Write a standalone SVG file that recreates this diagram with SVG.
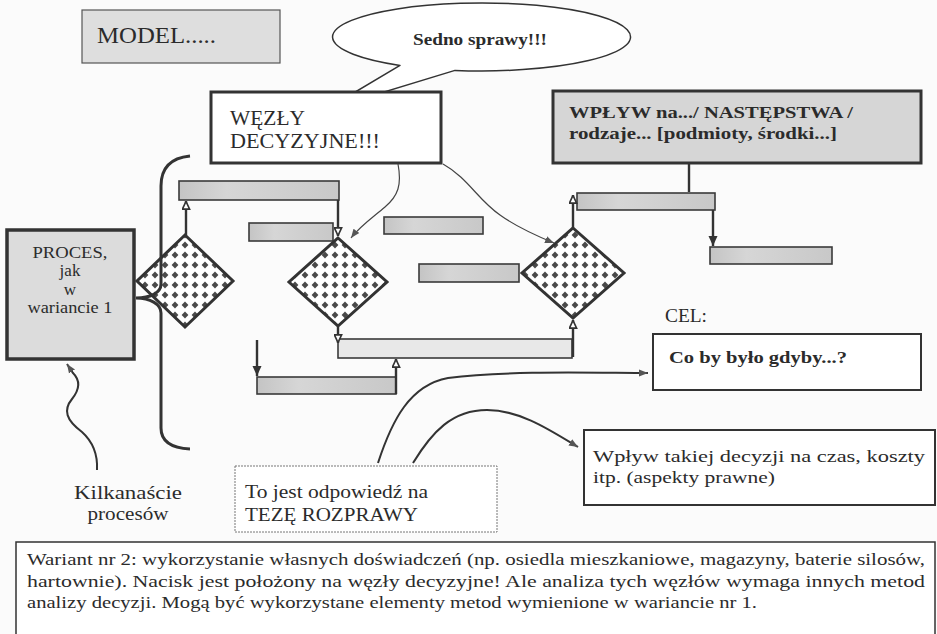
<svg xmlns="http://www.w3.org/2000/svg" width="937" height="634" viewBox="0 0 937 634" font-family="'Liberation Serif', Tinos, 'DejaVu Serif', 'Times New Roman', serif">
<defs>
<style>
text{font-family:'Liberation Serif', Tinos, 'DejaVu Serif', 'Times New Roman', serif;fill:#2b2b2b;}
.b{font-weight:bold;}
.bar{fill:url(#barG);stroke:#3a3a3a;stroke-width:1.6;}
.dia{fill:url(#dots);stroke:#333;stroke-width:3;stroke-linejoin:miter;}
.conn{fill:none;stroke:#333;stroke-width:2.4;}
.thin{fill:none;stroke:#444;stroke-width:1.2;}
.curve{fill:none;stroke:#333;stroke-width:2;}
</style>
<linearGradient id="barG" x1="0" y1="0" x2="1" y2="0">
<stop offset="0" stop-color="#c4c4c4"/>
<stop offset="0.3" stop-color="#d6d6d6"/>
<stop offset="1" stop-color="#c8c8c8"/>
</linearGradient>
<pattern id="dots" width="10" height="10" patternUnits="userSpaceOnUse">
<rect width="10" height="10" fill="#fff"/>
<path d="M5,1.6 L8.4,5 L5,8.4 L1.6,5 Z" fill="#4a4a4a"/>
</pattern>
<marker id="hollow" viewBox="0 0 10 10" refX="10" refY="5" markerWidth="9" markerHeight="9" markerUnits="userSpaceOnUse" orient="auto">
<path d="M1,1 L9.5,5 L1,9 Z" fill="#fff" stroke="#333" stroke-width="1.8"/>
</marker>
<marker id="solid" viewBox="0 0 10 10" refX="10" refY="5" markerWidth="10" markerHeight="10" markerUnits="userSpaceOnUse" orient="auto">
<path d="M0,0.5 L10,5 L0,9.5 Z" fill="#333"/>
</marker>
<marker id="thinArrow" viewBox="0 0 10 10" refX="10" refY="5" markerWidth="9" markerHeight="9" markerUnits="userSpaceOnUse" orient="auto">
<path d="M0,1 L10,5 L0,9 Z" fill="#555"/>
</marker>
</defs>
<rect width="937" height="634" fill="#fbfbfb"/>

<g id="model">
<rect x="82" y="10" width="198" height="53" fill="#dedede" stroke="#555" stroke-width="1.2"/>
<text x="97" y="43" font-size="23" textLength="119" lengthAdjust="spacingAndGlyphs">MODEL.....</text>
</g>

<g id="callout">
<path d="M455,70.4 A149,34 0 1 0 400,65.4 L325,110 Z" fill="#fff" stroke="#333" stroke-width="1.5" stroke-linejoin="round"/>
<text x="413" y="45" font-size="16" class="b" textLength="134" lengthAdjust="spacingAndGlyphs">Sedno sprawy!!!</text>
</g>

<g id="wezly">
<rect x="211" y="92" width="230" height="71" fill="#fff" stroke="#333" stroke-width="3"/>
<text x="230" y="125" font-size="20" textLength="75" lengthAdjust="spacingAndGlyphs">WĘZŁY</text>
<text x="230" y="148" font-size="20" textLength="150" lengthAdjust="spacingAndGlyphs">DECYZYJNE!!!</text>
</g>

<g id="wplyw">
<rect x="553" y="91" width="368" height="72" fill="#d6d6d6" stroke="#333" stroke-width="3"/>
<text x="569" y="118" font-size="17" class="b" textLength="284" lengthAdjust="spacingAndGlyphs">WPŁYW na.../ NASTĘPSTWA /</text>
<text x="569" y="139" font-size="17" class="b" textLength="268" lengthAdjust="spacingAndGlyphs">rodzaje... [podmioty, środki...]</text>
</g>

<g id="proces">
<rect x="7" y="230" width="127" height="129" fill="#dcdcdc" stroke="#333" stroke-width="3.5"/>
<text x="70" y="258" font-size="17" text-anchor="middle" textLength="75" lengthAdjust="spacingAndGlyphs">PROCES,</text>
<text x="70" y="276" font-size="17" text-anchor="middle">jak</text>
<text x="70" y="295" font-size="17" text-anchor="middle">w</text>
<text x="70" y="313" font-size="17" text-anchor="middle" textLength="85" lengthAdjust="spacingAndGlyphs">wariancie 1</text>
</g>

<g id="bars">
<rect id="barA" class="bar" x="179" y="181" width="160" height="19"/>
<rect id="barB" class="bar" x="249" y="223" width="84" height="18"/>
<rect id="barC" class="bar" x="384" y="217" width="99" height="17"/>
<rect id="barD" class="bar" x="419" y="264" width="100" height="18"/>
<rect id="barE" class="bar" x="577" y="193" width="138" height="17"/>
<rect id="barF" class="bar" x="710" y="247" width="122" height="17"/>
<rect id="barG2" x="338" y="339" width="234" height="19" fill="#e8e8e8" stroke="#3a3a3a" stroke-width="1.6"/>
<rect id="barH" class="bar" x="257" y="377" width="139" height="17"/>
</g>

<g id="d1"><polygon class="dia" points="185,235 233,281 185,327 137,281"/></g>
<g id="d2"><polygon class="dia" points="338,238 387,282 338,326 289,282"/></g>
<g id="d3"><polygon class="dia" points="573,228 624,273 573,318 522,273"/></g>

<g id="brace">
<path d="M190,156 C170,158 161,168 161,186 L161,284 C161,293 150,298 136,298 C150,298 161,304 161,313 L161,428 C161,441 170,448 190,449" fill="none" stroke="#333" stroke-width="3"/>
</g>

<g id="connectors">
<path class="conn" d="M186,235 L186,201" marker-end="url(#hollow)"/>
<path class="conn" d="M338,200 L338,236" marker-end="url(#hollow)"/>
<path class="conn" d="M338,327 L338,343" marker-end="url(#hollow)"/>
<path class="conn" d="M257,340 L257,376" marker-end="url(#solid)"/>
<path class="conn" d="M396,394 L396,359" marker-end="url(#hollow)"/>
<path class="conn" d="M573,357 L573,320" marker-end="url(#hollow)"/>
<path class="conn" d="M573,229 L573,195" marker-end="url(#hollow)"/>
<path class="conn" d="M713,210 L713,246" marker-end="url(#solid)"/>
<path class="conn" d="M689,164 L689,192"/>
<path class="thin" d="M398,164 C402,185 398,196 385,207 C372,218 360,226 351,238" marker-end="url(#thinArrow)"/>
<path class="thin" d="M443,164 C468,178 478,200 500,215 C518,228 537,236 554,243" marker-end="url(#thinArrow)"/>
<path class="curve" d="M97,470 C98,452 92,441 82,432 C66,420 63,410 72,399 C80,389 80,380 73,373 L67,364" marker-end="url(#thinArrow)"/>
<path class="curve" d="M378,463 C392,420 410,385 448,378 C510,370 600,373 648,373" marker-end="url(#thinArrow)"/>
<path class="curve" d="M413,463 C432,432 452,410 487,410 C520,410 550,430 578,447" marker-end="url(#thinArrow)"/>
</g>

<g id="cel-label">
<text x="665" y="322" font-size="19" textLength="42" lengthAdjust="spacingAndGlyphs">CEL:</text>
</g>

<g id="cel">
<rect x="653" y="334" width="268" height="56" fill="#fff" stroke="#333" stroke-width="2"/>
<text x="669" y="363" font-size="17" class="b" textLength="178" lengthAdjust="spacingAndGlyphs">Co by było gdyby...?</text>
</g>

<g id="wplyw-decyzji">
<rect x="584" y="430" width="351" height="75" fill="#fff" stroke="#333" stroke-width="2"/>
<text x="593" y="462" font-size="17" textLength="332" lengthAdjust="spacingAndGlyphs">Wpływ takiej decyzji na czas, koszty</text>
<text x="593" y="483" font-size="17" textLength="182" lengthAdjust="spacingAndGlyphs">itp. (aspekty prawne)</text>
</g>

<g id="teza">
<rect x="235" y="466" width="262" height="66" fill="#fff" stroke="#777" stroke-width="1" stroke-dasharray="2,1"/>
<text x="245" y="498" font-size="19" textLength="183" lengthAdjust="spacingAndGlyphs">To jest odpowiedź na</text>
<text x="245" y="521" font-size="19" textLength="173" lengthAdjust="spacingAndGlyphs">TEZĘ ROZPRAWY</text>
</g>

<g id="kilkanascie">
<text x="128" y="499" font-size="19" text-anchor="middle" textLength="108" lengthAdjust="spacingAndGlyphs">Kilkanaście</text>
<text x="128" y="520" font-size="19" text-anchor="middle" textLength="81" lengthAdjust="spacingAndGlyphs">procesów</text>
</g>

<g id="note">
<rect x="16" y="542" width="919" height="100" fill="#fff" stroke="#333" stroke-width="1.5"/>
<text x="27" y="565" font-size="17" textLength="898" lengthAdjust="spacingAndGlyphs">Wariant nr 2: wykorzystanie własnych doświadczeń (np. osiedla mieszkaniowe, magazyny, baterie silosów,</text>
<text x="27" y="587" font-size="17" textLength="898" lengthAdjust="spacingAndGlyphs">hartownie). Nacisk jest położony na węzły decyzyjne! Ale analiza tych węzłów wymaga innych metod</text>
<text x="27" y="608" font-size="17" textLength="730" lengthAdjust="spacingAndGlyphs">analizy decyzji. Mogą być wykorzystane elementy metod wymienione w wariancie nr 1.</text>
</g>
</svg>
